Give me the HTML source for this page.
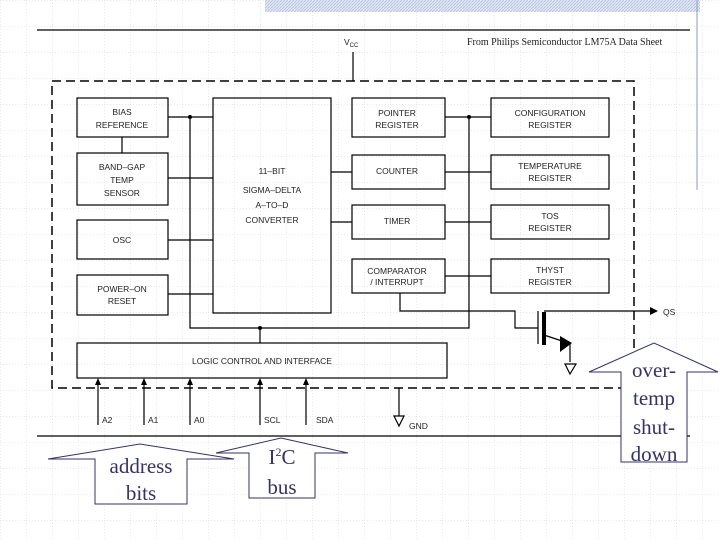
<!DOCTYPE html>
<html><head><style>
body{margin:0;width:720px;height:540px;overflow:hidden;background:#fff}
svg{display:block}
.t{font-family:"Liberation Sans",sans-serif;font-size:8.5px;fill:#222}
.c{font-family:"Liberation Serif",serif;font-size:21px;fill:#333366}
</style></head><body>
<svg width="720" height="540" viewBox="0 0 720 540">
<defs>
<pattern id="g" width="26" height="26" patternUnits="userSpaceOnUse"><path d="M0 0H26M0 0V26" stroke="#d6d6d6" stroke-width="1" stroke-dasharray="1 2" fill="none"/></pattern>
<pattern id="h" width="3" height="3" patternUnits="userSpaceOnUse"><rect width="3" height="3" fill="#e4eaf6"/><path d="M0 3L3 0" stroke="#b8c4e0" stroke-width="1"/></pattern>
</defs>
<rect width="720" height="540" fill="url(#g)"/>
<rect x="265" y="0" width="435" height="12" fill="url(#h)"/>
<line x1="697" y1="0" x2="697" y2="190" stroke="#8a9ac8"/>
<g stroke="#000" fill="none" stroke-width="1.2">
<line x1="37" y1="30" x2="690" y2="30"/>
<line x1="37" y1="436" x2="690" y2="436"/>
<line x1="353" y1="52" x2="353" y2="81"/>
<rect x="52" y="81" width="582" height="307" stroke-dasharray="9 5" stroke-width="1.5"/>
<rect x="77" y="98" width="91" height="39"/>
<rect x="77" y="153" width="91" height="52"/>
<rect x="77" y="220" width="91" height="39"/>
<rect x="77" y="275" width="91" height="40"/>
<rect x="213" y="98" width="118" height="215"/>
<rect x="352" y="98" width="93" height="39"/>
<rect x="352" y="155" width="93" height="34"/>
<rect x="352" y="205" width="93" height="34"/>
<rect x="352" y="259" width="93" height="34"/>
<rect x="491" y="98" width="118" height="39"/>
<rect x="491" y="155" width="118" height="34"/>
<rect x="491" y="205" width="118" height="34"/>
<rect x="491" y="259" width="118" height="34"/>
<rect x="77" y="343" width="370" height="35"/>
<line x1="122" y1="137" x2="122" y2="153"/>
<path d="M168 117H213M168 178H213M168 240H213M168 294H213M190 117V328H469V117M260 328V343"/>
<path d="M331 172H352M331 222H352M445 117H491M445 172H491M445 222H491M445 276H491"/>
<path d="M400 293V311H515V328H538M538 311V344"/>
<path d="M544 311H650"/>
<path d="M544 335L562 341M570 343V362"/>
<path d="M98 425V384M144 425V384M190 425V384M260 425V384M306 425V384"/>
<path d="M399 388V416"/>
<path d="M394 416H404L399 426Z M565 364H576L570 374Z"/>
</g>
<rect x="542" y="312" width="4" height="33" fill="#000"/>
<path d="M560 336L572 343L560 352Z M650 307L658 311L650 315Z" fill="#000"/>
<g fill="#000">
<circle cx="190" cy="117" r="2"/><circle cx="469" cy="117" r="2"/><circle cx="260" cy="328" r="2"/>
<path d="M95 385L98 378L101 385ZM141 385L144 378L147 385ZM187 385L190 378L193 385ZM257 385L260 378L263 385ZM303 385L306 378L309 385Z"/>
</g>
<g class="t" text-anchor="middle">
<text x="122" y="115">BIAS</text><text x="122" y="128">REFERENCE</text>
<text x="122" y="170">BAND–GAP</text><text x="122" y="183">TEMP</text><text x="122" y="196">SENSOR</text>
<text x="122" y="243">OSC</text>
<text x="122" y="292">POWER–ON</text><text x="122" y="304">RESET</text>
<text x="272" y="174">11–BIT</text><text x="272" y="193">SIGMA–DELTA</text>
<text x="272" y="208">A–TO–D</text><text x="272" y="223">CONVERTER</text>
<text x="397" y="116">POINTER</text><text x="397" y="128">REGISTER</text>
<text x="397" y="174">COUNTER</text>
<text x="397" y="224">TIMER</text>
<text x="397" y="274">COMPARATOR</text><text x="397" y="285">/ INTERRUPT</text>
<text x="550" y="116">CONFIGURATION</text><text x="550" y="128">REGISTER</text>
<text x="550" y="169">TEMPERATURE</text><text x="550" y="181">REGISTER</text>
<text x="550" y="219">TOS</text><text x="550" y="231">REGISTER</text>
<text x="550" y="273">THYST</text><text x="550" y="285">REGISTER</text>
<text x="262" y="364">LOGIC CONTROL AND INTERFACE</text>
</g>
<g class="t">
<text x="344" y="45">V<tspan font-size="6" dy="2">CC</tspan></text>
<text x="102" y="423">A2</text><text x="148" y="423">A1</text><text x="194" y="423">A0</text><text x="264" y="423">SCL</text><text x="316" y="423">SDA</text>
<text x="409" y="429">GND</text><text x="663" y="315">QS</text>
</g>
<text x="467" y="45" font-family="Liberation Serif,serif" font-size="10" fill="#222">From Philips Semiconductor LM75A Data Sheet</text>
<g fill="#fff" stroke="#333366" stroke-width="1">
<path d="M48 459L140 444L234 459H187V504H95V459Z"/>
<path d="M216 453L281 438L348 453H315V498H249V453Z"/>
<path d="M589 372L654 343L718 372H687V462H621V372Z"/>
</g>
<g class="c" text-anchor="middle">
<text x="141" y="473">address</text><text x="141" y="500">bits</text>
<text x="282" y="464">I<tspan font-size="12" dy="-8">2</tspan><tspan dy="8">C</tspan></text><text x="282" y="494">bus</text>
<text x="654" y="377">over-</text><text x="654" y="405">temp</text><text x="654" y="434">shut-</text><text x="654" y="461">down</text>
</g>
</svg>
</body></html>
